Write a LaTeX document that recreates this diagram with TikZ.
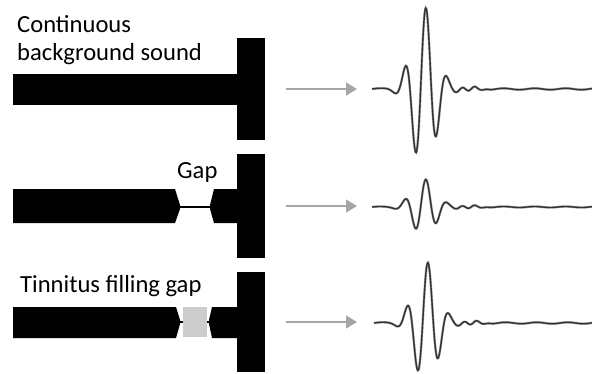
\documentclass[tikz,border=0pt]{standalone}
\usepackage{fontspec}
\setmainfont{Carlito}
\usetikzlibrary{arrows.meta}
\tikzset{
  blk/.style={fill=black, draw=none},
  gapline/.style={draw=black, line width=1.1pt},
  filler/.style={fill=black!20, draw=none},
  flow/.style={draw=black!35, line width=1.3pt, -{Triangle[length=11pt,width=13pt]}},
  wave/.style={draw=black!80, line width=1.4pt, line join=round,
    preaction={draw=black!35, line width=2.4pt}},
  lbl/.style={anchor=base west, inner sep=0pt, font=\fontsize{24.6}{28}\selectfont}
}
\begin{document}
\begin{tikzpicture}[x=1pt, y=-1pt]
\useasboundingbox (0,0) rectangle (592,373);
% ---- row 1 : continuous sound
\node[lbl] (t1a) at (17,32) {Continuous};
\node[lbl] (t1b) at (17,60) {background sound};
\fill[blk] (13,74) rectangle (237,105);
\fill[blk] (237,38) rectangle (265,140);
% ---- row 2 : gap
\node[lbl] (t2) at (177,178) {Gap};
\fill[blk] (13,189) -- (175,189) -- (180,205) -- (180,209) -- (175,223) -- (13,223) -- cycle;
\fill[blk] (214,189) -- (237,189) -- (237,223) -- (214,223) -- (210,209) -- (210,205) -- cycle;
\draw[gapline] (180,207) -- (210,207);
\fill[blk] (237,154) rectangle (265,258);
% ---- row 3 : tinnitus filling gap
\node[lbl] (t3) at (20,292) {Tinnitus filling gap};
\fill[blk] (13,307) -- (176,307) -- (180,320) -- (180,324) -- (176,338) -- (13,338) -- cycle;
\fill[blk] (212,307) -- (237,307) -- (237,338) -- (212,338) -- (209,324) -- (209,320) -- cycle;
\draw[gapline] (180,322) -- (183,322);
\draw[gapline] (207,322) -- (209,322);
\fill[filler] (183,307) rectangle (207,337);
\fill[blk] (237,272) rectangle (265,372);
% ---- arrows
\coordinate (a1s) at (286,89);  \coordinate (a1e) at (357,89);
\coordinate (a2s) at (286,206); \coordinate (a2e) at (357,206);
\coordinate (a3s) at (286,322); \coordinate (a3e) at (357,322);
\draw[flow] (a1s) -- (a1e);
\draw[flow] (a2s) -- (a2e);
\draw[flow] (a3s) -- (a3e);
% ---- waveforms (\x is offset from the main peak)
\draw[wave] plot[domain=-54:166, samples=300, smooth] ({426+\x},
  {89 - 83*exp(-min(((\x+2)/16.5)^2,12))*cos(360/21.5*\x)
      - 2.2*exp(-min(((\x-42)/14)^2,12))*cos(360/13*(\x-36))
      - 0.7*sin(360/31*(\x+54))});
\draw[wave] plot[domain=-54:166, samples=300, smooth] ({426+\x},
  {207 - 28.5*exp(-min(((\x+2)/16.5)^2,12))*cos(360/21.5*\x)
      - 1.6*exp(-min(((\x-42)/14)^2,12))*cos(360/13*(\x-36))
      - 0.5*sin(360/31*(\x+54))});
\draw[wave] plot[domain=-54:164, samples=300, smooth] ({428+\x},
  {323 - 62*exp(-min(((\x+2)/16.5)^2,12))*cos(360/21.5*\x)
      - 2*exp(-min(((\x-42)/14)^2,12))*cos(360/13*(\x-36))
      - 0.7*sin(360/31*(\x+54))});
\end{tikzpicture}
\end{document}
